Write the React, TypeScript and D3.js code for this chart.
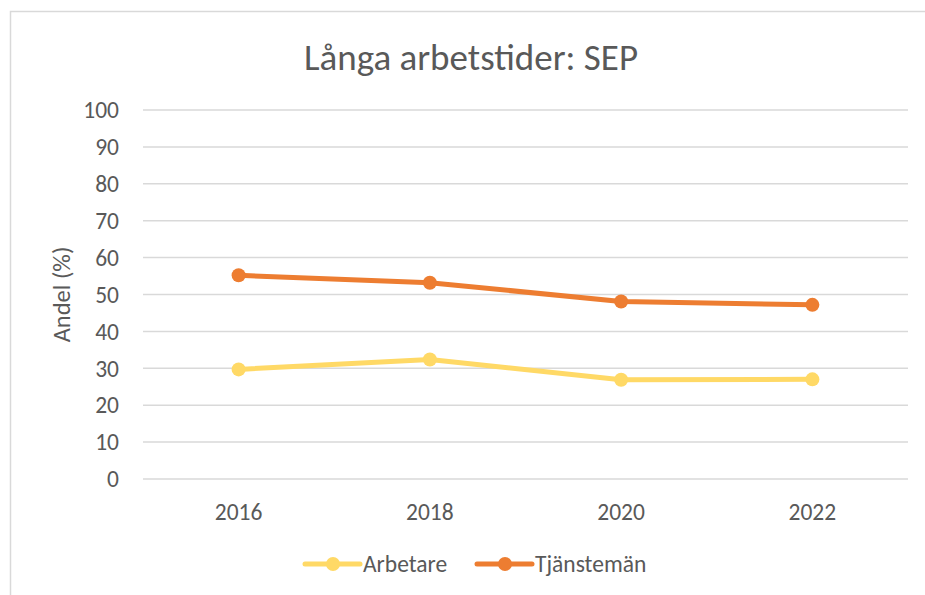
import * as d3 from 'd3';
import { useEffect, useRef } from 'react';

// Chart data
const years = ['2016', '2018', '2020', '2022'];
const arbetare = [29.7, 32.4, 26.9, 27.0];
const tjansteman = [55.2, 53.2, 48.1, 47.2];
const yTicks = [0, 10, 20, 30, 40, 50, 60, 70, 80, 90, 100];

const seriesNames = ['Arbetare', 'Tjänstemän'];
const seriesColors = ['#FFD966', '#ED7D31'];

export default function App() {
    const chartRef = useRef<SVGSVGElement>(null);

    useEffect(() => {
        const width = 925;
        const height = 595;
        const margin = { top: 110, right: 17, bottom: 116, left: 143 };
        const font = "Calibri, Carlito, 'Open Sans', sans-serif";

        const svg = d3.select(chartRef.current);
        svg.selectAll('*').remove();

        // Frame
        svg.append('path')
            .attr('d', `M10.5,${height} V11.5 H${width}`)
            .attr('fill', 'none')
            .attr('stroke', '#d9d9d9')
            .attr('stroke-width', 1.5);

        const xScale = d3.scaleBand()
            .domain(years)
            .range([margin.left, width - margin.right]);

        const yScale = d3.scaleLinear()
            .domain([0, 100])
            .range([height - margin.bottom, margin.top]);

        // Gridlines
        svg.append('g')
            .selectAll('line')
            .data(yTicks)
            .join('line')
            .attr('x1', margin.left)
            .attr('x2', width - margin.right)
            .attr('y1', (d) => yScale(d))
            .attr('y2', (d) => yScale(d))
            .attr('stroke', '#d9d9d9')
            .attr('stroke-width', 1.5);

        // Y tick labels
        svg.append('g')
            .selectAll('text')
            .data(yTicks)
            .join('text')
            .attr('x', 119)
            .attr('y', (d) => yScale(d))
            .attr('dy', '0.35em')
            .attr('text-anchor', 'end')
            .style('font-family', font)
            .style('font-size', '23.5px')
            .style('fill', '#595959')
            .text((d) => d);

        // X tick labels
        svg.append('g')
            .selectAll('text')
            .data(years)
            .join('text')
            .attr('x', (d) => xScale(d)! + xScale.bandwidth() / 2)
            .attr('y', 520)
            .attr('text-anchor', 'middle')
            .style('font-family', font)
            .style('font-size', '23.5px')
            .style('fill', '#595959')
            .text((d) => d);

        // Axis title
        svg.append('text')
            .attr('transform', `translate(70,${yScale(50)}) rotate(-90)`)
            .attr('text-anchor', 'middle')
            .style('font-family', font)
            .style('font-size', '24.5px')
            .style('fill', '#595959')
            .text('Andel (%)');

        // Title
        svg.append('text')
            .attr('x', 471)
            .attr('y', 70)
            .attr('text-anchor', 'middle')
            .style('font-family', font)
            .style('font-size', '37px')
            .style('fill', '#595959')
            .text('Långa arbetstider: SEP');

        // Lines + markers
        const allSeries = [arbetare, tjansteman];
        const line = d3.line<number>()
            .x((_, i) => xScale(years[i])! + xScale.bandwidth() / 2)
            .y((d) => yScale(d));

        allSeries.forEach((values, s) => {
            svg.append('path')
                .datum(values)
                .attr('d', line)
                .attr('fill', 'none')
                .attr('stroke', seriesColors[s])
                .attr('stroke-width', 5)
                .attr('stroke-linejoin', 'round');

            svg.append('g')
                .selectAll('circle')
                .data(values)
                .join('circle')
                .attr('cx', (_, i) => xScale(years[i])! + xScale.bandwidth() / 2)
                .attr('cy', (d) => yScale(d))
                .attr('r', 7)
                .attr('fill', seriesColors[s]);
        });

        // Legend
        const legendItems = [
            { x: 305, textX: 363 },
            { x: 477, textX: 535 },
        ];
        legendItems.forEach((item, s) => {
            const g = svg.append('g');
            g.append('line')
                .attr('x1', item.x)
                .attr('x2', item.x + 55)
                .attr('y1', 564)
                .attr('y2', 564)
                .attr('stroke', seriesColors[s])
                .attr('stroke-width', 5)
                .attr('stroke-linecap', 'round');
            g.append('circle')
                .attr('cx', item.x + 28)
                .attr('cy', 564)
                .attr('r', 7)
                .attr('fill', seriesColors[s]);
            g.append('text')
                .attr('x', item.textX)
                .attr('y', 564)
                .attr('dy', '0.35em')
                .style('font-family', font)
                .style('font-size', '23.5px')
                .style('fill', '#595959')
                .text(seriesNames[s]);
        });

        return () => {
            d3.select(chartRef.current).selectAll('*').remove();
        };
    }, []);

    return (
        <svg
            ref={chartRef}
            width={925}
            height={595}
            style={{ position: 'absolute', left: 0, top: 0, background: '#fff' }}
        />
    );
}
